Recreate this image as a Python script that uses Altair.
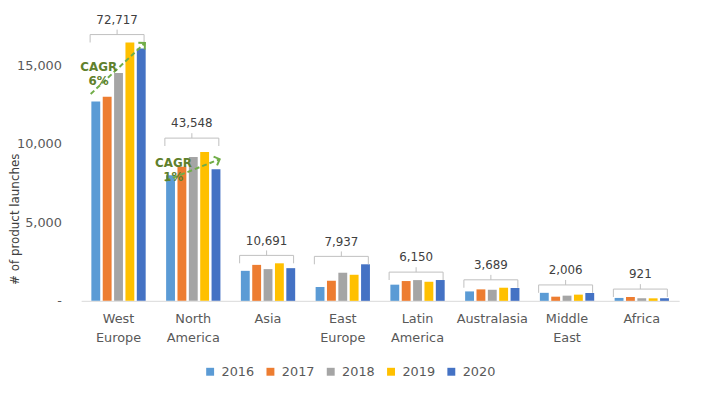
import math
import altair as alt
import pandas as pd

# ---------------- data ----------------
regions = ["West Europe", "North America", "Asia", "East Europe",
           "Latin America", "Australasia", "Middle East", "Africa"]
years = ["2016", "2017", "2018", "2019", "2020"]
v2016 = [12700, 8000, 1910, 880, 1030, 600, 510, 185]
v2017 = [13000, 8530, 2290, 1280, 1260, 730, 265, 245]
v2018 = [14500, 9160, 2020, 1790, 1320, 705, 330, 165]
v2019 = [16450, 9480, 2390, 1660, 1215, 835, 395, 160]
v2020 = [16067, 8378, 2081, 2327, 1325, 819, 506, 166]
colors = ["#5B9BD5", "#ED7D31", "#A5A5A5", "#FFC000", "#4472C4"]

cagr_regions = ["West Europe", "North America"]
cagr_labels = ["CAGR\n6%", "CAGR\n1%"]
cagr_start = [13170, 7640]
cagr_end = [16420, 9020]
cagr_text_y = [14900, 8780]

# ---------------- layout ----------------
W, H, YMAX = 605, 286, 18000
P_IN, P_OUT = 0.24, 0.12

series = [v2016, v2017, v2018, v2019, v2020]
rows = []
for yi, yr in enumerate(years):
    for ri, rg in enumerate(regions):
        rows.append({"region": rg, "year": yr, "value": series[yi][ri]})
df = pd.DataFrame(rows)

tot = pd.DataFrame({
    "region": regions,
    "total": [sum(s[i] for s in series) for i in range(len(regions))],
    "top": [max(s[i] for s in series) for i in range(len(regions))],
})

step = W / (len(regions) - P_IN + 2 * P_OUT)
bandw = step * (1 - P_IN)
B0, B1 = 0.01, 0.965
angles = []
for a, b in zip(cagr_start, cagr_end):
    dx = (B1 - B0) * bandw
    dy = (b - a) * H / YMAX
    angles.append(90 - math.degrees(math.atan2(dy, dx)))
ann = pd.DataFrame({"region": cagr_regions, "label": cagr_labels,
                    "y0": cagr_start, "y1": cagr_end,
                    "ty": cagr_text_y, "ang": angles})

x_scale = alt.Scale(domain=regions, paddingInner=P_IN, paddingOuter=P_OUT)
y_scale = alt.Scale(domain=[0, YMAX])
FONT = "DejaVu Sans"
GRAY = "#BFBFBF"
GREEN = "#70AD47"


def X(bp=None):
    if bp is None:
        return alt.X("region:N", scale=x_scale, sort=regions)
    return alt.X("region:N", scale=x_scale, sort=regions, bandPosition=bp)


def Y(field):
    return alt.Y(field, scale=y_scale)


bars = alt.Chart(df).mark_bar().encode(
    x=alt.X("region:N", scale=x_scale, sort=regions, title=None,
            axis=alt.Axis(labelExpr="split(datum.label, ' ')", labelAngle=0,
                          labelFontSize=13, labelColor="#595959", labelFont=FONT,
                          labelLineHeight=19, labelPadding=12, labelBaseline="top",
                          ticks=False, domainColor="#D9D9D9", grid=False)),
    xOffset=alt.XOffset("year:N", sort=years,
                        scale=alt.Scale(domain=years, paddingInner=0.22, paddingOuter=0.11)),
    y=alt.Y("value:Q", scale=y_scale,
            axis=alt.Axis(values=[0, 5000, 10000, 15000], grid=False, domain=False,
                          ticks=False, labelPadding=20, labelFontSize=13,
                          labelColor="#595959", labelFont=FONT,
                          labelExpr="datum.value == 0 ? '-' : format(datum.value, ',')",
                          title="# of product launches", titleFontSize=12,
                          titleFont=FONT, titleFontWeight="normal", titleColor="#404040",
                          titleAngle=270, titleX=-67, titleY=203,
                          titleAlign="center", titleBaseline="middle")),
    color=alt.Color("year:N", scale=alt.Scale(domain=years, range=colors),
                    legend=alt.Legend(orient="none", legendX=124, legendY=351,
                                      direction="horizontal", title=None,
                                      symbolType="square", symbolSize=64,
                                      symbolStrokeWidth=0, labelFontSize=13,
                                      labelFont=FONT, labelColor="#595959",
                                      labelOffset=5, columnPadding=9)),
)


def bracket_layers(data, lift):
    base = alt.Chart(data)
    h = base.mark_rule(color=GRAY, strokeWidth=1, yOffset=-8 - lift).encode(
        x=X(0.0), x2=alt.X2("region:N", bandPosition=0.95), y=Y("top:Q"),
    )
    ends = []
    for bp in (0.0, 0.95):
        ends.append(base.mark_rule(color=GRAY, strokeWidth=1,
                                   yOffset=-8 - lift, y2Offset=-lift).encode(
            x=X(bp), y=Y("top:Q"), y2="top:Q",
        ))
    mid = base.mark_rule(color=GRAY, strokeWidth=1,
                         yOffset=-13 - lift, y2Offset=-8 - lift).encode(
        x=X(0.475), y=Y("top:Q"), y2="top:Q",
    )
    lab = base.mark_text(font=FONT, fontSize=12, color="#404040",
                         baseline="middle", align="center", dy=-23 - lift).encode(
        x=X(0.475), y=Y("top:Q"), text=alt.Text("total:Q", format=","),
    )
    return [h] + ends + [mid, lab]


layers = [bars]
layers += bracket_layers(tot[tot.region != "North America"], 0)
layers += bracket_layers(tot[tot.region == "North America"], 6)

arrow = alt.Chart(ann).mark_rule(color=GREEN, strokeWidth=2, strokeDash=[5, 3]).encode(
    x=X(B0), x2=alt.X2("region:N", bandPosition=B1), y=Y("y0:Q"), y2="y1:Q",
)
head = alt.Chart(ann).mark_point(shape="M-1,1L0,0L1,1", filled=False, strokeWidth=2,
                                 size=90, color=GREEN, opacity=1).encode(
    x=X(B1), y=Y("y1:Q"), angle=alt.Angle("ang:Q", scale=None),
)
ctext = alt.Chart(ann).mark_text(font=FONT, fontSize=12, fontWeight="bold",
                                 color="#5F802C", lineBreak="\n", lineHeight=14,
                                 align="center", baseline="middle").encode(
    x=X(0.15), y=Y("ty:Q"), text="label:N",
)
layers += [arrow, head, ctext]

chart = alt.layer(*layers).properties(
    width=W, height=H,
    autosize=alt.AutoSizeParams(type="none"),
    padding={"left": 74, "top": 8, "right": 14, "bottom": 93},
    background="white",
).configure_view(stroke=None)

chart.save("out.html", embed_options={"renderer": "svg", "actions": False})
